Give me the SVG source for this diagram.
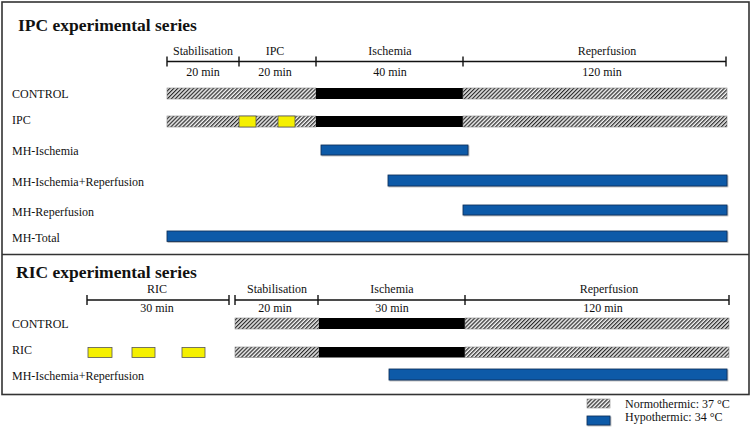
<svg xmlns="http://www.w3.org/2000/svg" width="751" height="430" viewBox="0 0 751 430">
<defs>
<pattern id="hatch" patternUnits="userSpaceOnUse" width="2.8" height="8" patternTransform="rotate(45)">
<rect width="2.8" height="8" fill="#f2f2f2"/>
<rect x="0" y="0" width="1.25" height="8" fill="#2a2a2a"/>
</pattern>
<filter id="sh" x="-5%" y="-30%" width="110%" height="170%">
<feDropShadow dx="0.8" dy="0.8" stdDeviation="0.6" flood-color="#000" flood-opacity="0.35"/>
</filter>
</defs>
<style>
text{font-family:"Liberation Serif","Times New Roman",serif;font-size:12px;fill:#111}
.title{font-size:17.5px;font-weight:bold}
.mid{text-anchor:middle}
.axis{stroke:#111;stroke-width:1.4;fill:none}
.hatch{fill:url(#hatch);stroke:#888;stroke-width:0.6}
.isch{fill:#000}
.blue{fill:#0a5aa8;stroke:#0c2c55;stroke-width:0.8;filter:url(#sh)}
.yel{fill:#f5f000;stroke:#555;stroke-width:0.8}
.frame{fill:none;stroke:#333;stroke-width:1.6}
</style>
<rect width="751" height="430" fill="#fff"/>
<g id="frame">
<rect class="frame" x="2" y="2" width="747" height="392.5"/>
<line class="frame" x1="2" y1="254.5" x2="749" y2="254.5"/>
</g>
<g id="ipc-series">
<text class="title" x="18" y="31">IPC experimental series</text>
<g id="ipc-axis">
<path class="axis" d="M167,61.5H726M167,56.5V66.5M239,56.5V66.5M316,56.5V66.5M463,56.5V66.5M726,56.5V66.5"/>
<text class="mid" x="203" y="55">Stabilisation</text>
<text class="mid" x="203" y="76">20 min</text>
<text class="mid" x="275" y="55">IPC</text>
<text class="mid" x="275" y="76">20 min</text>
<text class="mid" x="390" y="55">Ischemia</text>
<text class="mid" x="390" y="76">40 min</text>
<text class="mid" x="607" y="55">Reperfusion</text>
<text class="mid" x="602" y="76">120 min</text>
</g>
<g id="ipc-control">
<text x="12" y="98">CONTROL</text>
<rect class="hatch" x="167" y="88" width="149" height="11"/>
<rect class="isch" x="316" y="88" width="147" height="11"/>
<rect class="hatch" x="463" y="88" width="264" height="11"/>
</g>
<g id="ipc-ipc">
<text x="12" y="124">IPC</text>
<rect class="hatch" x="167" y="116" width="149" height="11"/>
<rect class="yel" x="239" y="116" width="17" height="11"/>
<rect class="yel" x="278" y="116" width="17" height="11"/>
<rect class="isch" x="316" y="116" width="147" height="11"/>
<rect class="hatch" x="463" y="116" width="264" height="11"/>
</g>
<g id="ipc-mh-ischemia">
<text x="12" y="155">MH-Ischemia</text>
<rect class="blue" x="321" y="145" width="147" height="10"/>
</g>
<g id="ipc-mh-ir">
<text x="12" y="186">MH-Ischemia+Reperfusion</text>
<rect class="blue" x="388" y="175" width="339" height="11"/>
</g>
<g id="ipc-mh-rep">
<text x="12" y="216">MH-Reperfusion</text>
<rect class="blue" x="463" y="205" width="264" height="10"/>
</g>
<g id="ipc-mh-total">
<text x="12" y="242">MH-Total</text>
<rect class="blue" x="167" y="231" width="560" height="10.5"/>
</g>
</g>
<g id="ric-series">
<text class="title" x="16" y="278">RIC experimental series</text>
<g id="ric-axis">
<path class="axis" d="M87,300H229M87,295V305M229,295V305M235,300H729M235,295V305M318,295V305M465,295V305M729,295V305"/>
<text class="mid" x="157" y="293">RIC</text>
<text class="mid" x="157" y="312">30 min</text>
<text class="mid" x="277" y="293">Stabilisation</text>
<text class="mid" x="275" y="312">20 min</text>
<text class="mid" x="392" y="293">Ischemia</text>
<text class="mid" x="392" y="312">30 min</text>
<text class="mid" x="609" y="293">Reperfusion</text>
<text class="mid" x="603" y="312">120 min</text>
</g>
<g id="ric-control">
<text x="12" y="328">CONTROL</text>
<rect class="hatch" x="235" y="318" width="84" height="11"/>
<rect class="isch" x="319" y="318" width="146" height="11"/>
<rect class="hatch" x="465" y="318" width="264" height="11"/>
</g>
<g id="ric-ric">
<text x="12" y="354">RIC</text>
<rect class="yel" x="88" y="347.5" width="24" height="10"/>
<rect class="yel" x="132" y="347.5" width="23" height="10"/>
<rect class="yel" x="182" y="347.5" width="23" height="10"/>
<rect class="hatch" x="235" y="347" width="84" height="10.5"/>
<rect class="isch" x="319" y="347" width="146" height="10.5"/>
<rect class="hatch" x="465" y="347" width="264" height="10.5"/>
</g>
<g id="ric-mh-ir">
<text x="12" y="380">MH-Ischemia+Reperfusion</text>
<rect class="blue" x="389" y="369" width="338" height="11"/>
</g>
</g>
<g id="legend">
<rect class="hatch" x="587" y="399" width="23" height="9"/>
<text x="625" y="408">Normothermic: 37 °C</text>
<rect class="blue" x="587" y="416" width="23" height="9"/>
<text x="625" y="421">Hypothermic: 34 °C</text>
</g>
</svg>
